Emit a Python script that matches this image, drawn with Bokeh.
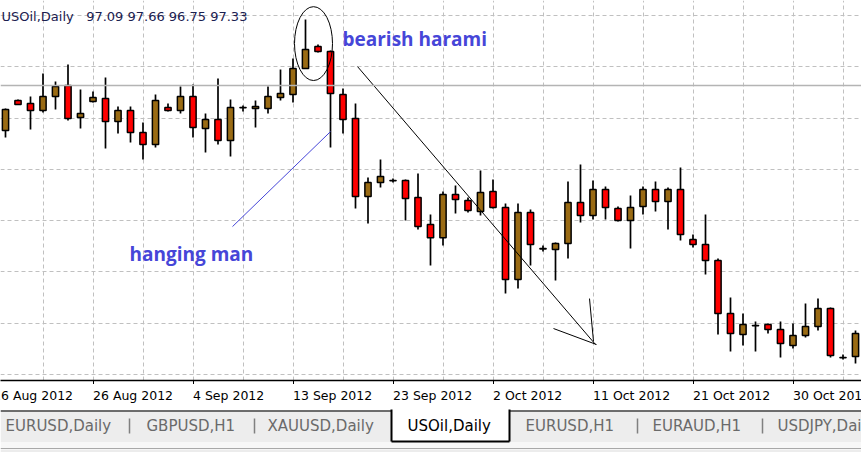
from bokeh.plotting import figure
from bokeh.models import Range1d, FixedTicker, Label, Span, ColumnDataSource
from bokeh.layouts import column
from bokeh.embed import file_html
from bokeh.resources import INLINE
from bokeh.core.properties import value

# ---------------- data ----------------
chart_title = "USOil,Daily\u00a0\u00a0 97.09 97.66 96.75 97.33"

opens = [96.89, 98.36, 98.21, 97.87, 98.55, 99.09, 97.53, 98.31, 98.45, 97.33,
         97.87, 96.80, 96.21, 98.01, 97.87, 98.55, 96.99, 97.43, 96.41, 98.01,
         97.97, 97.97, 98.50, 98.65, 99.92, 100.99, 100.74, 98.65, 97.48, 93.68,
         94.36, 94.46, 94.46, 93.63, 92.31, 91.67, 93.77, 93.48, 92.95, 93.92,
         93.14, 89.63, 92.90, 91.14, 91.09, 91.38, 93.38, 92.75, 94.02, 93.09,
         92.51, 93.19, 94.02, 93.43, 94.02, 91.58, 91.34, 90.56, 87.97, 86.95,
         87.39, 87.44, 87.19, 86.41, 86.90, 87.34, 88.22, 85.83, 85.88]
highs = [97.97, 98.40, 98.55, 99.67, 99.28, 100.11, 98.89, 98.80, 99.48, 98.06,
         98.06, 97.28, 98.65, 98.21, 99.04, 99.14, 97.72, 99.43, 98.40, 98.11,
         98.36, 99.04, 99.87, 100.40, 102.31, 101.09, 100.79, 98.94, 98.21, 94.60,
         95.48, 94.55, 94.50, 94.80, 92.80, 93.92, 94.21, 93.63, 94.94, 94.50,
         93.34, 93.34, 93.04, 91.29, 91.43, 94.41, 95.24, 94.46, 94.16, 93.19,
         93.72, 94.16, 94.41, 94.12, 95.09, 91.82, 92.80, 90.65, 88.75, 87.97,
         87.58, 87.49, 87.58, 87.49, 88.46, 88.70, 88.27, 85.97, 87.14]
lows = [96.55, 98.14, 96.94, 97.77, 97.92, 97.38, 96.99, 98.26, 96.02, 96.75,
        96.31, 95.48, 96.07, 97.82, 97.72, 96.55, 95.82, 96.21, 95.63, 97.82,
        97.04, 97.72, 98.36, 98.26, 99.92, 100.70, 96.07, 96.75, 93.09, 92.36,
        94.12, 94.36, 92.51, 92.07, 90.31, 91.29, 92.85, 92.90, 92.75, 93.09,
        88.95, 89.19, 90.31, 90.99, 89.58, 90.65, 92.41, 92.56, 92.56, 92.46,
        91.14, 92.80, 92.95, 92.07, 91.53, 91.19, 89.87, 86.95, 86.12, 86.41,
        86.12, 87.00, 85.83, 86.26, 86.80, 87.14, 85.83, 85.73, 85.54]
closes = [97.92, 98.16, 97.87, 98.55, 99.04, 97.48, 97.72, 98.50, 97.33, 97.87,
          96.80, 96.21, 98.36, 97.87, 98.55, 97.04, 97.43, 96.41, 98.01, 98.00,
          98.06, 98.55, 98.70, 99.92, 100.84, 100.74, 98.70, 97.43, 93.68, 94.36,
          94.65, 94.44, 93.58, 92.21, 91.67, 93.77, 93.53, 92.99, 93.87, 93.14,
          89.63, 92.90, 91.34, 91.12, 91.38, 93.38, 92.75, 94.02, 93.14, 92.51,
          93.14, 94.02, 93.43, 94.02, 91.82, 91.34, 90.56, 87.97, 87.00, 87.44,
          87.37, 87.19, 86.51, 86.90, 87.34, 88.22, 85.93, 85.81, 87.00]

date_labels = ["16 Aug 2012", "26 Aug 2012", "4 Sep 2012", "13 Sep 2012", "23 Sep 2012",
               "2 Oct 2012", "11 Oct 2012", "21 Oct 2012", "30 Oct 2012"]
date_bars = [-1, 7, 15, 23, 31, 39, 47, 55, 63]

price_grid = [85.0, 87.5, 90.0, 92.5, 95.0, 97.5, 100.0, 102.5]
marker_price = 99.09

tab_names = ["EURUSD,Daily", "GBPUSD,H1", "XAUUSD,Daily", "USOil,Daily",
             "EURUSD,H1", "EURAUD,H1", "USDJPY,Daily"]
active_tab = 3

harami_text = "bearish harami"
hanging_text = "hanging man"

# ---------------- styles ----------------
BULL = "#9a6b14"
BEAR = "#ff0000"
NOTE_BLUE = "#4646d8"
GRID = "#c0c0c0"

n = len(opens)
src = ColumnDataSource(dict(
    x=list(range(n)), o=opens, h=highs, l=lows, c=closes,
    top=[max(a, b) for a, b in zip(opens, closes)],
    bot=[min(a, b) for a, b in zip(opens, closes)],
    color=[BULL if c > o else BEAR for o, c in zip(opens, closes)],
))

xr = Range1d(-0.4, 68.48)

p = figure(width=861, height=384, x_range=xr,
           y_range=Range1d(84.706, 103.231), toolbar_location=None,
           output_backend="svg", y_axis_location=None, tools="",
           min_border_left=0, min_border_right=0, min_border_top=0,
           min_border_bottom=0)
p.outline_line_color = None
p.background_fill_color = "white"
p.border_fill_color = "white"

# grid
p.xgrid.ticker = FixedTicker(ticks=list(range(-1, 69, 4)))
p.ygrid.ticker = FixedTicker(ticks=price_grid)
for g in (p.xgrid, p.ygrid):
    g.grid_line_color = GRID
    g.grid_line_dash = "4 3"
    g.grid_line_width = 1

# x axis: line + tick marks (labels are drawn left-aligned below)
p.xaxis.ticker = FixedTicker(ticks=date_bars)
p.xaxis.major_tick_out = 4
p.xaxis.major_tick_in = 0
p.xaxis.minor_tick_line_color = None
p.xaxis.axis_line_color = "black"
p.xaxis.axis_line_width = 1.5
p.xaxis.major_tick_line_color = "black"
p.xaxis.major_label_text_color = None
p.xaxis.major_label_standoff = 0

p.add_layout(Span(location=marker_price, dimension="width",
                  line_color="#b4b4b4", line_width=1.5))

# candles
p.segment(x0="x", y0="h", x1="x", y1="l", source=src, line_color="black", line_width=1.7)
p.vbar(x="x", top="top", bottom="bot", width=0.5, source=src,
       fill_color="color", line_color="black", line_width=1.5)

# drawn objects
p.ellipse(x=[24.64], y=[101.13], width=[3.04], height=[3.6],
          fill_color=None, line_color="black", line_width=1)
p.segment(x0=[28.16, 43.84, 46.72], y0=[100.01, 87.24, 88.70],
          x1=[47.2, 47.28, 47.04], y1=[86.46, 86.46, 86.61],
          line_color="black", line_width=1)
p.segment(x0=[18.16], y0=[92.21], x1=[26.0], y1=[96.84],
          line_color=NOTE_BLUE, line_width=1)

p.add_layout(Label(x=26.96, y=101.36, text=harami_text, text_color=NOTE_BLUE,
                   text_font="Open Sans", text_font_style="bold",
                   text_font_size="19px", text_baseline="alphabetic", text_align="left"))
p.add_layout(Label(x=9.92, y=90.85, text=hanging_text, text_color=NOTE_BLUE,
                   text_font="Open Sans", text_font_style="bold",
                   text_font_size="19px", text_baseline="alphabetic", text_align="left"))

p.add_layout(Label(x=1, y=364.5, x_units="screen", y_units="screen", text=chart_title,
                   text_color="#1a2050", text_font="DejaVu Sans",
                   text_font_size="13px", text_baseline="alphabetic", text_align="left"))

# ---------------- date label row (shares the bar scale) ----------------
dl = figure(width=861, height=21, x_range=xr, y_range=Range1d(0, 1),
            toolbar_location=None, output_backend="svg", tools="",
            x_axis_location=None, y_axis_location=None,
            min_border_left=0, min_border_right=0, min_border_top=0, min_border_bottom=0)
dl.outline_line_color = None
dl.xgrid.visible = False
dl.ygrid.visible = False
dl.background_fill_color = "white"
dl.border_fill_color = "white"
dl.text(x=date_bars, y=[0.5] * len(date_bars), text=date_labels, text_color="black",
        text_font=value("DejaVu Sans"), text_font_size=value("12.5px"),
        text_baseline="middle", text_align="left")

# ---------------- tab bar ----------------
tb = figure(width=861, height=47, x_range=Range1d(0, 861), y_range=Range1d(452, 405),
            toolbar_location=None, output_backend="svg", tools="",
            x_axis_location=None, y_axis_location=None,
            min_border_left=0, min_border_right=0, min_border_top=0, min_border_bottom=0)
tb.outline_line_color = None
tb.xgrid.visible = False
tb.ygrid.visible = False
tb.background_fill_color = "white"
tb.border_fill_color = "white"

tb.quad(left=[0], right=[861], top=[410], bottom=[442], fill_color="#ededed", line_color=None)
tb.quad(left=[0], right=[861], top=[442], bottom=[447.5], fill_color="#f7f7f7", line_color=None)
tb.quad(left=[0], right=[861], top=[449], bottom=[452], fill_color="#ececec", line_color=None)
tb.segment(x0=[0], y0=[448], x1=[861], y1=[448], line_color="#a8a8a8", line_width=1)
tab_left_px = [5, 146, 267, 407, 525, 652, 777]
sep_px = [129, 254, 637, 762]
tb.segment(x0=[0, 509], y0=[410.5, 410.5], x1=[391, 861], y1=[410.5, 410.5],
           line_color="#404040", line_width=1.5)
tb.quad(left=[391], right=[509], top=[409], bottom=[441], fill_color="white", line_color=None)
tb.segment(x0=[391, 509, 391], y0=[409, 409, 441], x1=[391, 509, 509], y1=[441, 441, 441],
           line_color="black", line_width=2)
tb.segment(x0=sep_px, y0=[418] * 4, x1=sep_px, y1=[433] * 4, line_color="#808080", line_width=1.5)
tb.text(x=tab_left_px, y=[425.5] * len(tab_names), text=tab_names,
        text_color=["black" if k == active_tab else "#6a6a6a" for k in range(len(tab_names))],
        text_font=value("DejaVu Sans"), text_font_size=value("15px"),
        text_baseline="middle", text_align="left")

layout = column(p, dl, tb, spacing=0)
open("out.html", "w").write(file_html(layout, INLINE))
